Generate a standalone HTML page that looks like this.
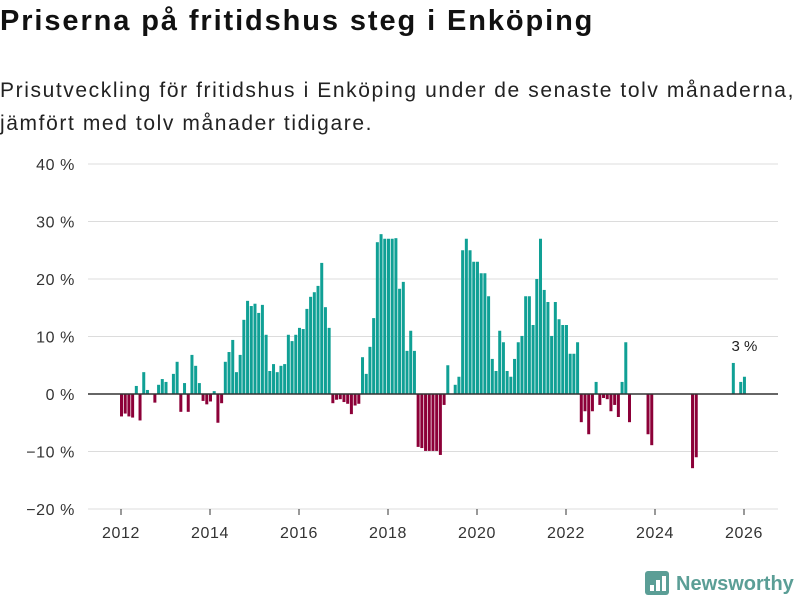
<!DOCTYPE html>
<html><head><meta charset="utf-8"><style>
body{margin:0;background:#fff;font-family:"Liberation Sans","DejaVu Sans",sans-serif;}
#wrap{position:relative;width:800px;height:600px;overflow:hidden;}
h1{position:absolute;left:0;top:5px;margin:0;font-size:29px;font-weight:bold;color:#111;letter-spacing:1.9px;white-space:nowrap}
.sub{position:absolute;left:0;top:74px;margin:0;font-size:21px;line-height:33px;color:#222;letter-spacing:1.6px;white-space:nowrap}
</style></head><body>
<div id="wrap">
<h1>Priserna på fritidshus steg i Enköping</h1>
<p class="sub">Prisutveckling för fritidshus i Enköping under de senaste tolv månaderna,<br>jämfört med tolv månader tidigare.</p>
<svg id="chart" width="800" height="600" style="position:absolute;left:0;top:0"></svg>
</div>
<script>
const values=[-3.9,-3.4,-3.9,-4.1,1.4,-4.6,3.8,0.7,null,-1.5,1.6,2.6,2.1,null,3.5,5.6,-3.1,1.9,-3.1,6.8,4.9,1.9,-1.2,-1.8,-1.3,0.5,-5,-1.6,5.6,7.3,9.4,3.8,6.8,12.9,16.2,15.3,15.7,14.1,15.5,10.3,4.0,5.2,3.8,4.9,5.2,10.3,9.2,10.3,11.5,11.3,14.8,16.9,17.7,18.8,22.8,15.1,11.5,-1.6,-1.0,-0.9,-1.4,-1.7,-3.5,-2.0,-1.7,6.4,3.5,8.2,13.2,26.4,27.8,27,27,27,27.1,18.3,19.5,7.5,11,7.5,-9.2,-9.4,-9.9,-9.9,-9.9,-9.9,-10.6,-1.9,5.0,null,1.6,3.0,25,27,25,23,23,21,21,17,6.1,4.0,11,9,4,3,6.1,9,10.1,17,17,12,20,27,18.1,16,10.1,16,13,12,12,7,7,9,-4.9,-3,-7,-3,2.1,-1.9,-0.7,-0.9,-3,-1.9,-4,2.1,9,-4.9,null,null,null,null,-7,-8.9,null,null,null,null,null,null,null,null,null,null,-12.9,-11,null,null,null,null,null,null,null,null,null,5.4,null,2.1,3.0];
const startYear=2012;
const yTicks=[-20,-10,0,10,20,30,40];
const xTicks=[2012,2014,2016,2018,2020,2022,2024,2026];
const lastLabel="3 %";
const NS="http://www.w3.org/2000/svg";
const svg=document.getElementById('chart');
const y=v=>394-v*5.75;
const xm=i=>121.5+i*3.708;
const xy=yr=>121+(yr-startYear)*44.5;
function mk(t,a){const e=document.createElementNS(NS,t);for(const k in a)e.setAttribute(k,a[k]);svg.appendChild(e);return e;}
yTicks.forEach(t=>{
  const g=mk('line',{x1:88,x2:778,y1:y(t),y2:y(t),stroke:'#dcdcdc','stroke-width':1});
  
  
  const l=mk('text',{x:75,y:y(t)+6,'text-anchor':'end','font-size':16,fill:'#333','letter-spacing':'0.6','font-family':'Liberation Sans, sans-serif'});
  l.textContent=(t<0?'−'+Math.abs(t):t)+' %';
  
  
});
values.forEach((v,i)=>{
  if(v===null)return;
  const top=v>=0?y(v):y(0), h=Math.abs(y(v)-y(0));
  const r=mk('rect',{x:xm(i)-1.5,y:top,width:3,height:h,fill:v>=0?'#10a095':'#8c0038'});
  
  
});
const z=mk('line',{x1:88,x2:778,y1:y(0),y2:y(0),stroke:'#333','stroke-width':1.5});


xTicks.forEach(t=>{
  const tk=mk('line',{x1:xy(t),x2:xy(t),y1:509,y2:515,stroke:'#333','stroke-width':1});
  
  
  const l=mk('text',{x:xy(t),y:538,'text-anchor':'middle','font-size':16,fill:'#333','letter-spacing':'0.6','font-family':'Liberation Sans, sans-serif'});
  l.textContent=t;
  
  
});
const li=values.length-1;
const lab=mk('text',{x:xm(li),y:y(values[li])-26,'text-anchor':'middle','font-size':15,fill:'#222','font-family':'Liberation Sans, sans-serif'});
lab.textContent=lastLabel;


const lg=mk('g',{});


const ic=document.createElementNS(NS,'rect');
ic.setAttribute('x',645);ic.setAttribute('y',571);ic.setAttribute('width',24);ic.setAttribute('height',24);ic.setAttribute('rx',3);ic.setAttribute('fill','#5b9e96');
lg.appendChild(ic);
[[650,585,4,6],[656,580,4,11],[662,576,4,15]].forEach(b=>{const r=document.createElementNS(NS,'rect');r.setAttribute('x',b[0]);r.setAttribute('y',b[1]);r.setAttribute('width',b[2]);r.setAttribute('height',b[3]);r.setAttribute('fill','#fff');lg.appendChild(r);});
const tx=document.createElementNS(NS,'text');
tx.setAttribute('x',676);tx.setAttribute('y',590);tx.setAttribute('font-size',20);tx.setAttribute('font-weight','bold');tx.setAttribute('fill','#5b9e96');tx.setAttribute('font-family','Liberation Sans, sans-serif');
tx.textContent='Newsworthy';
lg.appendChild(tx);
</script>
</body></html>
